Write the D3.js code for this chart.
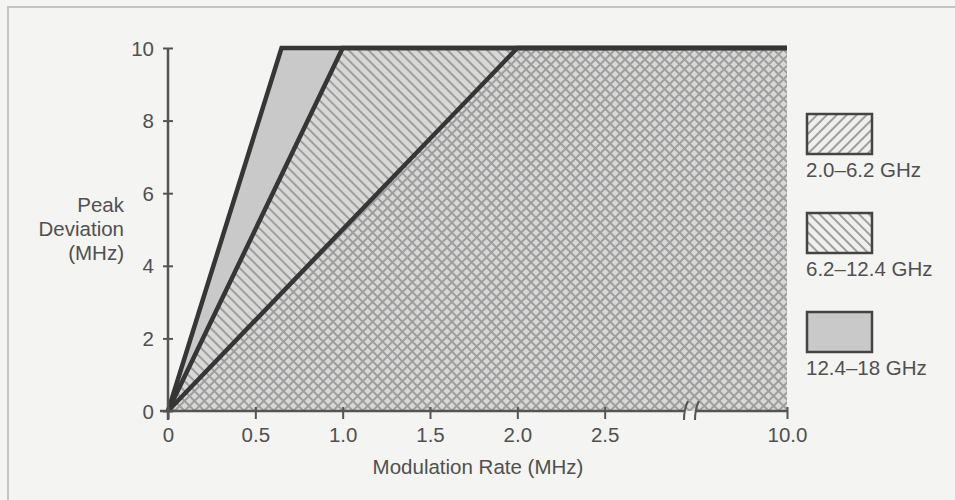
<!DOCTYPE html>
<html>
<head>
<meta charset="utf-8">
<script src="https://cdn.jsdelivr.net/npm/d3@7"></script>
<style>
  html, body { margin: 0; padding: 0; background: #f4f4f3; }
  svg { display: block; }
  text { font-family: "Liberation Sans", Arial, Helvetica, sans-serif; fill: #505050; }
</style>
</head>
<body>
<svg id="chart" width="955" height="500"></svg>
<script>
// ---- data ----
const xTickValues = [0, 0.5, 1.0, 1.5, 2.0, 2.5, 10.0];
const xTickLabels = ["0", "0.5", "1.0", "1.5", "2.0", "2.5", "10.0"];
const yTickValues = [0, 2, 4, 6, 8, 10];
const bandLabels = ["2.0\u20136.2 GHz", "6.2\u201312.4 GHz", "12.4\u201318 GHz"];
// modulation rate (MHz) at which each band reaches the max peak deviation
const bandKneeRate = [2.0, 1.0, 0.65];
const maxDeviation = 10;   // MHz
const maxRate = 10.0;      // MHz
const breakRate = 3.0;     // axis break position

const bandSeries = bandKneeRate.map(k => [[0, 0], [k, maxDeviation], [maxRate, maxDeviation]]);

// ---- layout ----
const svg = d3.select("#chart");
const x = d3.scaleLinear().domain([0, breakRate, maxRate]).range([168, 692, 787]);
const y = d3.scaleLinear().domain([0, 10]).range([411, 48]);
const fs = "20.5px";

// frame
svg.append("rect").attr("x", 8).attr("y", 7).attr("width", 960).attr("height", 510)
  .attr("fill", "none").attr("stroke", "#c4c4c4").attr("stroke-width", 2);

// patterns
const defs = svg.append("defs");
function hatch(id, angle, bg) {
  const p = defs.append("pattern").attr("id", id)
    .attr("patternUnits", "userSpaceOnUse").attr("width", 7).attr("height", 7)
    .attr("patternTransform", `rotate(${angle})`);
  if (bg) p.append("rect").attr("width", 7).attr("height", 7).attr("fill", bg);
  p.append("line").attr("x1", 1).attr("y1", 0).attr("x2", 1).attr("y2", 7)
    .attr("stroke", "#9e9e9e").attr("stroke-width", 2);
}
hatch("hatchBack", -45, null);   // "\\"
hatch("hatchFwd", 45, null);     // "//"
hatch("hatchBackLeg", -45, "#efefee");
hatch("hatchFwdLeg", 45, "#efefee");

const fills = ["url(#hatchFwd)", "url(#hatchBack)", "#c9c9c9"];
const legendFills = ["url(#hatchFwdLeg)", "url(#hatchBackLeg)", "#c9c9c9"];

const area = d3.area().x(d => x(d[0])).y0(y(0)).y1(d => y(d[1]));
const line = d3.line().x(d => x(d[0])).y(d => y(d[1]));

// areas: widest band (12.4-18) at bottom
const order = [2, 1, 0];
order.forEach(i => {
  if (i === 1) {
    svg.append("path").datum(bandSeries[i]).attr("d", area).attr("fill", "#d8d8d7");
  }
  svg.append("path").datum(bandSeries[i]).attr("d", area).attr("fill", fills[i]);
});

// boundary lines
order.forEach(i => {
  svg.append("path").datum(bandSeries[i]).attr("d", line)
    .attr("fill", "none").attr("stroke", "#363636").attr("stroke-width", 4.5)
    .attr("stroke-linejoin", "miter");
});

// ---- axes ----
const axisColor = "#555";
const xBreakL = x(breakRate) - 7, xBreakR = x(breakRate) + 4;
svg.append("line").attr("x1", 160).attr("x2", xBreakL).attr("y1", y(0)).attr("y2", y(0))
  .attr("stroke", axisColor).attr("stroke-width", 2.5);
svg.append("line").attr("x1", xBreakR).attr("x2", x(maxRate)).attr("y1", y(0)).attr("y2", y(0))
  .attr("stroke", axisColor).attr("stroke-width", 2.5);
[xBreakL, xBreakR].forEach(bx => {
  svg.append("path")
    .attr("d", `M${bx - 1},${y(0) + 9} Q${bx - 1},${y(0) - 2} ${bx + 3},${y(0) - 10}`)
    .attr("fill", "none").attr("stroke", axisColor).attr("stroke-width", 2);
});
svg.append("line").attr("x1", x(0)).attr("x2", x(0)).attr("y1", y(10)).attr("y2", y(0) + 9)
  .attr("stroke", axisColor).attr("stroke-width", 2.5);

const xAxis = d3.axisBottom(x).tickValues(xTickValues)
  .tickFormat((d, i) => xTickLabels[i]).tickSize(0).tickPadding(0);
const gx = svg.append("g").attr("transform", `translate(0,${y(0)})`).call(xAxis);
gx.select(".domain").remove();
gx.selectAll(".tick line").attr("y1", -4).attr("y2", 8).attr("stroke", axisColor).attr("stroke-width", 2);
gx.selectAll(".tick text").attr("y", 31).attr("dy", 0).attr("fill", "#505050")
  .style("font-size", fs).attr("font-family", null);

const yAxis = d3.axisLeft(y).tickValues(yTickValues).tickSize(0).tickPadding(0);
const gy = svg.append("g").attr("transform", `translate(${x(0)},0)`).call(yAxis);
gy.select(".domain").remove();
gy.selectAll(".tick line").attr("x1", -5).attr("x2", 5).attr("stroke", axisColor).attr("stroke-width", 2);
gy.selectAll(".tick text").attr("x", -14).attr("dy", "0.35em").attr("fill", "#505050")
  .style("font-size", fs).attr("font-family", null);

// axis titles
svg.append("text").attr("x", 478).attr("y", 474).attr("text-anchor", "middle")
  .style("font-size", fs).text("Modulation Rate (MHz)");
const yt = svg.append("text").attr("text-anchor", "end").style("font-size", fs);
["Peak", "Deviation", "(MHz)"].forEach((t, i) => {
  yt.append("tspan").attr("x", 124).attr("y", 212 + i * 24).text(t);
});

// ---- legend ----
const legY = [114, 213, 312];
bandLabels.forEach((lab, i) => {
  svg.append("rect").attr("x", 807).attr("y", legY[i]).attr("width", 65).attr("height", 40)
    .attr("fill", legendFills[i]).attr("stroke", "#444").attr("stroke-width", 2.5);
  svg.append("text").attr("x", 806).attr("y", legY[i] + 63)
    .style("font-size", fs).text(lab);
});
</script>
</body>
</html>
